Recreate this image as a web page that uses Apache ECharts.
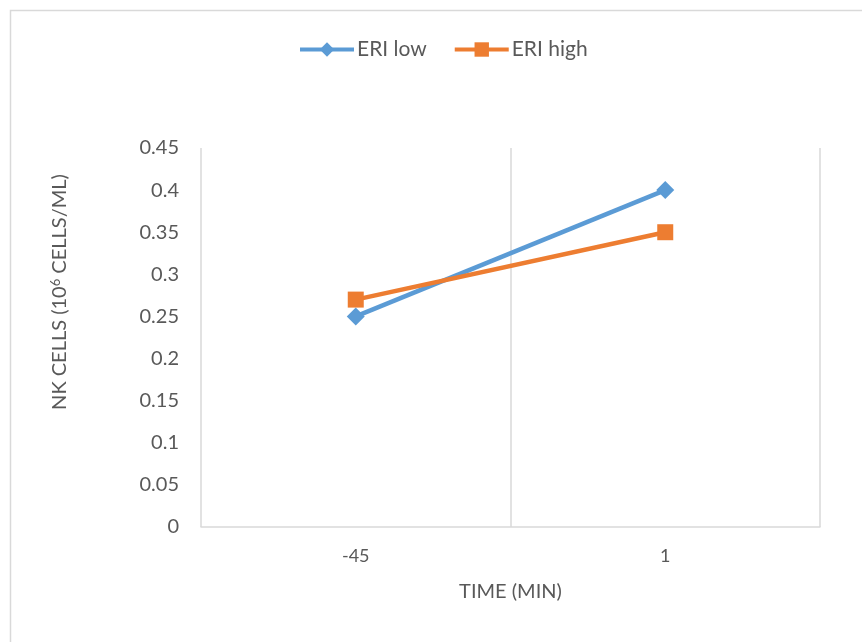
<!DOCTYPE html>
<html>
<head>
<meta charset="utf-8">
<style>
  html, body { margin: 0; padding: 0; background: #ffffff; }
  #chart { width: 862px; height: 642px; }
</style>
<script src="https://cdn.jsdelivr.net/npm/echarts@6/dist/echarts.min.js"></script>
</head>
<body>
<div id="chart"></div>
<script>
// Time points (minutes) and NK cell counts (10^6 cells/mL)
const categories = ['-45', '1'];
const eriLow = [0.25, 0.40];
const eriHigh = [0.27, 0.35];
const seriesNames = ['ERI low', 'ERI high'];

const FONT = 'Lato, "Open Sans", sans-serif';
const TEXT = '#595959';
const GRID_LINE = '#d9d9d9';

const chart = echarts.init(document.getElementById('chart'), null, { renderer: 'canvas' });

chart.setOption({
  backgroundColor: '#ffffff',
  animation: false,
  textStyle: { fontFamily: FONT },
  legend: {
    top: 34,
    left: 293,
    itemWidth: 54,
    itemHeight: 18,
    itemGap: 26,
    lineStyle: { width: 4 },
    textStyle: { color: TEXT, fontSize: 21, fontFamily: FONT, padding: [0, 0, 0, -2] },
    data: seriesNames
  },
  grid: { left: 201, right: 42, top: 148, bottom: 115, containLabel: false },
  xAxis: {
    type: 'category',
    data: categories,
    boundaryGap: true,
    name: 'TIME (MIN)',
    nameLocation: 'middle',
    nameGap: 55,
    nameTextStyle: { color: TEXT, fontSize: 20, fontFamily: FONT },
    axisLine: { show: true, lineStyle: { color: GRID_LINE, width: 1.5 } },
    axisTick: { show: false },
    axisLabel: { color: TEXT, fontSize: 18, margin: 20, fontFamily: FONT },
    splitLine: { show: true, lineStyle: { color: GRID_LINE, width: 1.5 } }
  },
  yAxis: {
    type: 'value',
    min: 0,
    max: 0.45,
    interval: 0.05,
    axisLine: { show: false },
    axisTick: { show: false },
    splitLine: { show: false },
    axisLabel: {
      color: TEXT,
      fontSize: 20,
      margin: 22,
      fontFamily: FONT,
      formatter: function (v) { return String(parseFloat(v.toFixed(2))); }
    }
  },
  graphic: [
    {
      type: 'rect',
      silent: true,
      shape: { x: 10.5, y: 10.5, width: 900, height: 700 },
      style: { fill: 'none', stroke: GRID_LINE, lineWidth: 1.5 }
    },
    {
      type: 'text',
      x: 60,
      y: 292,
      rotation: Math.PI / 2,
      style: {
        text: '{a|NK CELLS (10}{s|6}{a| CELLS/ML)}',
        align: 'center',
        verticalAlign: 'middle',
        rich: {
          a: { fontSize: 20, fill: TEXT, fontFamily: FONT },
          s: { fontSize: 13, fill: TEXT, fontFamily: FONT, verticalAlign: 'top', padding: [0, 0, 9, 0] }
        }
      }
    }
  ],
  series: [
    {
      name: seriesNames[0],
      type: 'line',
      data: eriLow,
      symbol: 'diamond',
      symbolSize: 18,
      color: '#5B9BD5',
      lineStyle: { width: 4.5, color: '#5B9BD5' },
      itemStyle: { color: '#5B9BD5' }
    },
    {
      name: seriesNames[1],
      type: 'line',
      data: eriHigh,
      symbol: 'rect',
      symbolSize: 16,
      color: '#ED7D31',
      lineStyle: { width: 4.5, color: '#ED7D31' },
      itemStyle: { color: '#ED7D31' }
    }
  ]
});
</script>
</body>
</html>
